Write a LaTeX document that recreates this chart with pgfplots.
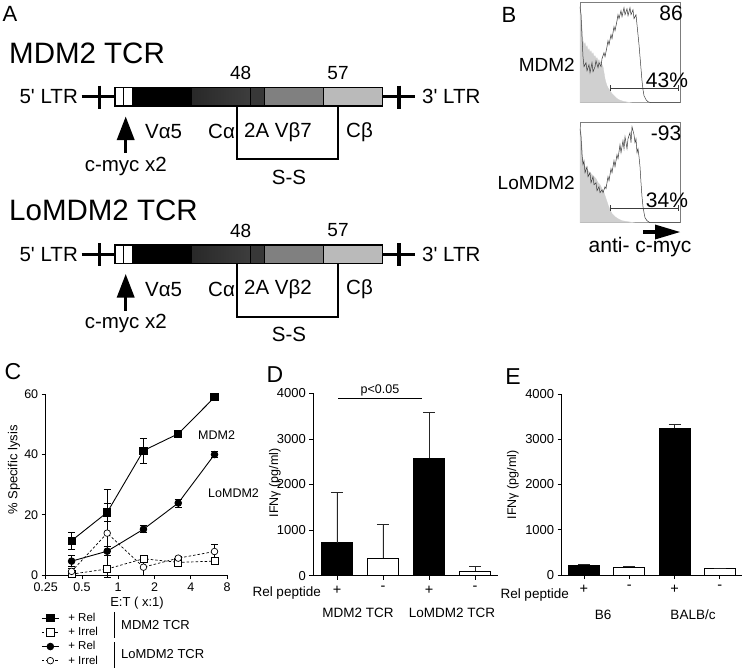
\documentclass[border=0pt]{standalone}
\usepackage{fontspec}
\setmainfont{Liberation Sans}
\usepackage{pgfplots}
\pgfplotsset{compat=1.18}
\pgfplotsset{/pgf/number format/assume math mode=true}
\newcommand{\fs}[1]{\fontsize{#1}{#1}\selectfont}
\definecolor{histgray}{RGB}{208,208,208}
\definecolor{boxgray}{RGB}{125,125,125}
\definecolor{histline}{RGB}{60,60,60}
\tikzset{t/.style={inner sep=0pt}}
\newcommand{\construct}[3]{%
\begin{scope}[yshift=-#1pt]
 \draw[line width=2.8pt] (81.7,-96.7) -- (115,-96.7);
 \draw[line width=2.8pt] (382.3,-96.7) -- (415,-96.7);
 \draw[line width=3.4pt] (99.3,-85.5) -- (99.3,-108.5);
 \draw[line width=3.4pt] (399,-85.5) -- (399,-108.5);
 \fill[white] (115,-87.5) rectangle (132.7,-106);
 \fill[black] (132.7,-87.5) rectangle (192.7,-106);
 \shade[left color=black!84, right color=black!76] (192.7,-87.5) rectangle (250.7,-106);
 \fill[black!78] (250.7,-87.5) rectangle (264.3,-106);
 \fill[black!50] (264.3,-87.5) rectangle (323.3,-106);
 \fill[black!27] (323.3,-87.5) rectangle (382.3,-106);
 \draw[line width=1.1pt] (115,-87.5) rectangle (382.3,-106);
 \draw[line width=1.1pt] (123.3,-87.5)--(123.3,-106) (132.7,-87.5)--(132.7,-106) (250.7,-87.5)--(250.7,-106) (264.3,-87.5)--(264.3,-106) (323.3,-87.5)--(323.3,-106);
 \draw[line width=2.2pt] (237.3,-106) -- (237.3,-159.3) -- (338.3,-159.3) -- (338.3,-106);
 \fill (116.7,-140) -- (125.7,-116.7) -- (134.7,-140) -- cycle;
 \draw[line width=3pt] (125.7,-139) -- (125.7,-153.3);
 \node[t,anchor=east,font=\fs{20.5}] at (78,-96.7) {5\textquotesingle{} LTR};
 \node[t,anchor=west,font=\fs{20.5}] at (422,-96.7) {3\textquotesingle{} LTR};
 \node[t,font=\fs{19}] at (240.7,-73) {48};
 \node[t,font=\fs{19}] at (338,-73) {57};
 \node[t,anchor=west,font=\fs{20.5}] at (145,-131.7) {Vα5};
 \node[t,anchor=west,font=\fs{20.5}] at (208,-131.7) {Cα};
 \node[t,anchor=west,font=\fs{20.5}] at (244,-131.7) {2A Vβ#2};
 \node[t,anchor=west,font=\fs{20.5}] at (346,-131.7) {Cβ};
 \node[t,font=\fs{20.5}] at (125.8,-166) {c-myc x2};
 \node[t,font=\fs{20.5}] at (289,-177) {S-S};
 \node[t,anchor=west,font=\fs{29.5}] at (9,-53) {#3};
\end{scope}}
\begin{document}
\begin{tikzpicture}[x=1pt,y=1pt]
\path[use as bounding box] (0,0) rectangle (744,-670);
% ---------------- Panel A
\node[t,font=\fs{22}] at (10,-14) {A};
\construct{0}{7}{MDM2 TCR}
\construct{157.5}{2}{LoMDM2 TCR}
% ---------------- Panel B
\node[t,font=\fs{22}] at (509,-15) {B};
\begin{axis}[at={(580pt,-102.7pt)}, anchor=south west, scale only axis, width=100pt, height=100pt,
 xmin=0,xmax=100,ymin=0,ymax=100, ticks=none, axis line style={boxgray, line width=0.9pt}, clip=false]
\addplot[fill=histgray, draw=histgray, line width=0.3pt] coordinates {(0,96) (1,90) (2,75) (3,62) (4,58) (5,60) (6,55) (7,57) (8,52) (9,54) (10,50) (11,52) (12,48) (13,50) (14,46) (15,47) (16,44) (17,45) (18,42) (19,43) (20,40) (21,41) (22,38) (23,36) (24,30) (25,24) (26,20) (27,17) (28,15) (30,12) (32,9) (34,7) (36,5) (38,3.5) (40,2.5) (43,1.5) (47,0.7) (52,0) (100,0)} \closedcycle;
\addplot[histline, line width=0.5pt] coordinates {(0,96) (1,88) (2,66) (3,46) (4,36) (6,40) (7,32) (9,38) (10,30) (12,40) (13,31) (15,36) (16,42) (18,35) (19,40) (21,36) (22,44) (24,50) (25,46) (27,56) (28,62) (29,58) (31,68) (32,64) (34,76) (35,72) (37,82) (38,88) (39,84) (41,92) (42,86) (44,95) (45,88) (47,94) (48,87) (50,95) (51,88) (53,93) (54,84) (56,88) (57,78) (58,68) (59,58) (60,46) (61,34) (62,22) (63,13) (64,7) (66,3) (68,1) (71,0) (100,0)};
\addplot[histline, line width=0.7pt] coordinates {(30,14.7) (98,14.7)};
\addplot[histline, line width=0.7pt] coordinates {(30,12) (30,17.4)};
\addplot[histline, line width=0.7pt] coordinates {(98,12) (98,17.4)};
\node[t,font=\fs{21}] at (axis cs:91,89.4) {86};
\node[t,font=\fs{21}] at (axis cs:87,22) {43\%};
\end{axis}
\begin{axis}[at={(580pt,-222.7pt)}, anchor=south west, scale only axis, width=100pt, height=100pt,
 xmin=0,xmax=100,ymin=0,ymax=100, ticks=none, axis line style={boxgray, line width=0.9pt}, clip=false]
\addplot[fill=histgray, draw=histgray, line width=0.3pt] coordinates {(0,96) (1,90) (2,76) (3,62) (4,58) (5,56) (6,55) (7,53) (8,52) (9,51) (10,50) (11,49) (12,48) (13,47) (14,46) (15,45) (16,44) (17,42) (18,40) (19,39) (20,38) (22,34) (24,30) (26,24) (28,18) (30,13) (32,9) (35,6) (38,4) (42,2) (48,1) (55,0) (100,0)} \closedcycle;
\addplot[histline, line width=0.5pt] coordinates {(0,94) (1,86) (2,68) (3,58) (4,62) (5,50) (7,56) (8,46) (10,50) (11,40) (13,46) (14,38) (16,40) (17,32) (19,36) (20,30) (22,33) (23,30) (25,36) (26,34) (28,46) (29,42) (31,54) (32,50) (34,62) (35,56) (37,68) (38,64) (40,78) (41,70) (43,82) (44,74) (45,86) (47,74) (48,84) (50,90) (51,80) (52,96) (54,88) (55,80) (56,84) (57,70) (58,74) (59,66) (60,56) (61,40) (62,26) (63,16) (64,10) (65,5) (67,2) (70,0) (100,0)};
\addplot[histline, line width=0.7pt] coordinates {(30,14.7) (98,14.7)};
\addplot[histline, line width=0.7pt] coordinates {(30,12) (30,17.4)};
\addplot[histline, line width=0.7pt] coordinates {(98,12) (98,17.4)};
\node[t,font=\fs{21}] at (axis cs:86,89.4) {-93};
\node[t,font=\fs{21}] at (axis cs:87,22) {34\%};
\end{axis}
\node[t,anchor=east,font=\fs{19}] at (575,-65) {MDM2};
\node[t,anchor=east,font=\fs{19}] at (575,-183) {LoMDM2};
\draw[line width=3.5pt] (643,-232) -- (657,-232);
\fill (655,-224.5) -- (680,-232) -- (655,-239.5) -- cycle;
\node[t,font=\fs{21}] at (640,-247) {anti- c-myc};
% ---------------- Panel C
\node[t,font=\fs{23}] at (13,-372) {C};
\begin{axis}[at={(45.7pt,-575pt)}, anchor=south west, scale only axis, width=181.3pt, height=180.7pt,
 xmode=log, log basis x=2, xmin=0.25, xmax=8, ymin=0, ymax=60,
 axis lines=left, axis line style={-, line width=0.9pt},
 xtick={0.25,0.5,1,2,4,8}, xticklabels={0.25,0.5,1,2,4,8},
 ytick={0,20,40,60},
 tick style={black, line width=0.8pt}, major tick length=4pt, tick align=outside,
 tick label style={font=\fs{12.5}},
 clip=false,
 legend cell align=left,
 legend style={at={(-0.025,-0.2)}, anchor=north west, draw=none, fill=none, font=\fs{11.5}, row sep=0.3pt, column sep=7pt, inner sep=0pt}]
\addplot[black, line width=0.9pt, mark=square*, mark size=3.6pt, error bars/.cd, y dir=both, y explicit, error bar style={line width=0.8pt}, error mark options={rotate=90, mark size=3.5pt, line width=0.8pt}]
 coordinates {(0.41,11.4) +- (0,2.9) (0.81,20.8) +- (0,3.0) (1.62,41.3) +- (0,4.1) (3.15,46.9) +- (0,1.0) (6.3,59.0) +- (0,0.5)};
\addlegendentry{+ Rel}
\addplot[black, line width=0.7pt, dash pattern=on 2.5pt off 2pt, mark=square*, mark size=3.6pt, mark options={solid, fill=white}, error bars/.cd, y dir=both, y explicit, error bar style={line width=0.8pt, solid}, error mark options={rotate=90, mark size=3.5pt, line width=0.8pt}]
 coordinates {(0.41,0.3) +- (0,0.5) (0.81,2.0) +- (0,0.8) (1.62,5.4) +- (0,1.0) (3.15,4.2) +- (0,0.6) (6.3,4.6) +- (0,0.5)};
\addlegendentry{+ Irrel}
\addplot[black, line width=0.9pt, mark=*, mark size=3.3pt, error bars/.cd, y dir=both, y explicit, error bar style={line width=0.8pt}, error mark options={rotate=90, mark size=3.5pt, line width=0.8pt}]
 coordinates {(0.41,4.6) +- (0,1.9) (0.81,7.9) +- (0,1.5) (1.62,15.2) +- (0,1.2) (3.15,23.9) +- (0,1.3) (6.3,40.0) +- (0,1.1)};
\addlegendentry{+ Rel}
\addplot[black, line width=0.7pt, dash pattern=on 2.5pt off 2pt, mark=*, mark size=3.3pt, mark options={solid, fill=white}, error bars/.cd, y dir=both, y explicit, error bar style={line width=0.8pt, solid}, error mark options={rotate=90, mark size=3.5pt, line width=0.8pt}]
 coordinates {(0.41,1.2) +- (0,1.0) (0.81,13.9) +- (0,14.6) (1.62,2.6) +- (0,2.6) (3.15,5.6) +- (0,0.5) (6.3,7.8) +- (0,2.2)};
\addlegendentry{+ Irrel}
\end{axis}
\node[t,rotate=90,font=\fs{13}] at (14,-470) {\% Specific lysis};
\node[t,font=\fs{13}] at (137,-603) {E:T ( x:1)};
\node[t,anchor=west,font=\fs{12.5}] at (198,-435) {MDM2};
\node[t,anchor=west,font=\fs{12.5}] at (208,-493) {LoMDM2};
\draw[line width=0.9pt] (114,-612) -- (114,-638);
\draw[line width=0.9pt] (114,-642) -- (114,-668);
\node[t,anchor=west,font=\fs{13}] at (121,-625) {MDM2 TCR};
\node[t,anchor=west,font=\fs{13}] at (121,-654) {LoMDM2 TCR};
% ---------------- Panel D
\node[t,font=\fs{23}] at (275,-375) {D};
\begin{axis}[at={(313.3pt,-575.7pt)}, anchor=south west, scale only axis, width=184.7pt, height=182.4pt,
 xmin=-0.515, xmax=3.5, ymin=0, ymax=4000,
 axis lines=left, axis line style={-, line width=0.9pt},
 ytick={0,1000,2000,3000,4000}, xtick={0,1,2,3}, xticklabels={+,-,+,-},
 tick style={black, line width=0.8pt}, major tick length=4pt, tick align=outside,
 yticklabel style={font=\fs{13}}, xticklabel style={font=\fs{14.5}, yshift=-3pt},
 /pgf/number format/1000 sep={}, clip=false]
\addplot[ybar, bar width=31pt, bar shift=0pt, fill=black, draw=black, line width=0.9pt, error bars/.cd, y dir=plus, y explicit, error bar style={line width=0.8pt, black!85}, error mark options={rotate=90, mark size=6pt, line width=0.8pt, black!85}]
 coordinates {(0,720) +- (0,1115) (2,2574) +- (0,1000)};
\addplot[ybar, bar width=31pt, bar shift=0pt, fill=white, draw=black, line width=0.9pt, error bars/.cd, y dir=plus, y explicit, error bar style={line width=0.8pt, black!85}, error mark options={rotate=90, mark size=6pt, line width=0.8pt, black!85}]
 coordinates {(1,380) +- (0,753) (3,95) +- (0,117)};
\draw[line width=0.8pt] (axis cs:0.03,3882) -- (axis cs:1.84,3882);
\end{axis}
\node[t,font=\fs{12.5}] at (380,-390.5) {p<0.05};
\node[t,rotate=90,font=\fs{12.5}] at (275,-483) {IFNγ (pg/ml)};
\node[t,anchor=east,font=\fs{13.5}] at (321,-593) {Rel peptide};
\node[t,font=\fs{13.5}] at (358,-613) {MDM2 TCR};
\node[t,font=\fs{13.5}] at (452,-613) {LoMDM2 TCR};
% ---------------- Panel E
\node[t,font=\fs{23}] at (513,-377) {E};
\begin{axis}[at={(561.7pt,-575pt)}, anchor=south west, scale only axis, width=180.3pt, height=181pt,
 xmin=-0.49, xmax=3.49, ymin=0, ymax=4000,
 axis lines=left, axis line style={-, line width=0.9pt},
 ytick={0,1000,2000,3000,4000}, xtick={0,1,2,3}, xticklabels={+,-,+,-},
 tick style={black, line width=0.8pt}, major tick length=4pt, tick align=outside,
 yticklabel style={font=\fs{13}}, xticklabel style={font=\fs{14.5}, yshift=-3pt},
 /pgf/number format/1000 sep={}, clip=false]
\addplot[ybar, bar width=31pt, bar shift=0pt, fill=black, draw=black, line width=0.9pt, error bars/.cd, y dir=plus, y explicit, error bar style={line width=0.8pt, black!85}, error mark options={rotate=90, mark size=6pt, line width=0.8pt, black!85}]
 coordinates {(0,221) +- (0,22) (2,3241) +- (0,81)};
\addplot[ybar, bar width=31pt, bar shift=0pt, fill=white, draw=black, line width=0.9pt, error bars/.cd, y dir=plus, y explicit, error bar style={line width=0.8pt, black!85}, error mark options={rotate=90, mark size=6pt, line width=0.8pt, black!85}]
 coordinates {(1,170) +- (0,29) (3,155) +- (0,0)};
\end{axis}
\node[t,rotate=90,font=\fs{12.5}] at (513,-485) {IFNγ (pg/ml)};
\node[t,anchor=east,font=\fs{13.5}] at (569,-595) {Rel peptide};
\node[t,font=\fs{13.5}] at (603,-615) {B6};
\node[t,font=\fs{13.5}] at (693,-615) {BALB/c};
\end{tikzpicture}
\end{document}
